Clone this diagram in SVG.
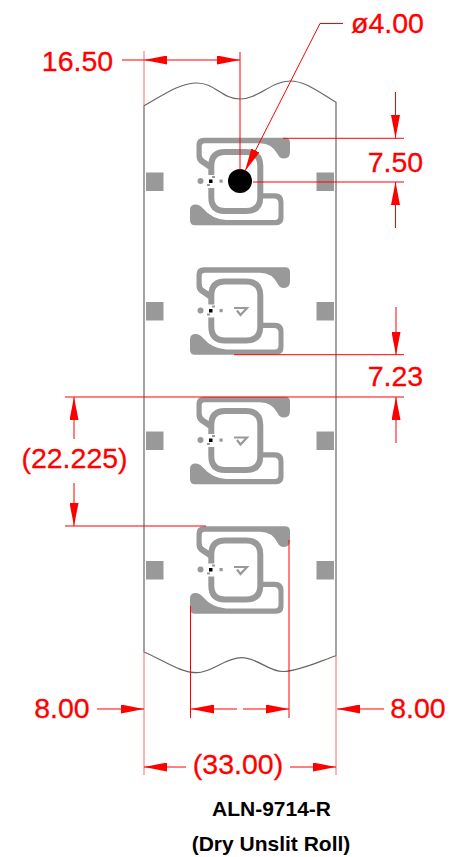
<svg xmlns="http://www.w3.org/2000/svg" width="459" height="857" viewBox="0 0 459 857">
<style>
.dim{fill:none;stroke:#f00;stroke-width:1}
.ext{fill:none;stroke:#f66;stroke-width:1}
.t{font-family:"Liberation Sans",Arial,sans-serif;font-size:28.500px;fill:#f00;stroke:#f00;stroke-width:.3;text-anchor:middle}
.b{font-family:"Liberation Sans",Arial,sans-serif;font-weight:700;font-size:21px;fill:#000;text-anchor:middle}
.g{fill:#999}
.edge{fill:none;stroke:#666;stroke-width:1.2}
</style>
<defs>
<marker id="a" markerUnits="userSpaceOnUse" viewBox="0 0 23 9" refX="23" refY="4.500" markerWidth="23" markerHeight="9" orient="auto-start-reverse"><path d="M0 0L23 4.500L0 9Z" fill="#f00"/></marker>
<g id="inlay">
<path class="g" d="M204 137.700L285 137.700Q290 137.700 290 142.500L290 152Q290 158.500 284 158.500Q279.500 158.500 277.500 154Q272 143.500 260 143.300L205 143.300Q201.700 143.300 201.700 146.500L201.700 154Q201.700 157.500 204 159L211 163.500L211 170L208 169L200 163.500Q196.500 161 196.500 156L196.500 145Q196.500 137.700 204 137.700Z"/>
<path d="M211.300 175L211.300 166Q211.300 152 225 152L246 152Q260.300 152 260.300 166L260.300 197Q260.300 211 246 211L225 211Q211.300 211 211.300 197L211.300 188" fill="none" stroke="#999" stroke-width="6"/>
<path class="g" d="M258 193.300L275 193.300Q283.500 193.300 283.500 202L283.500 218Q283.500 225.300 276 225.300L195 225.300Q190 225.300 190 220L190 210Q190 204.500 195.500 204.500Q199.500 204.500 203 208.500Q212 219 226 220L275 220Q278.500 220 278.500 216L278.500 203Q278.500 198.500 274 198.500L258 198.500Z"/>
<circle class="g" cx="200.500" cy="181" r="3"/>
<rect class="g" x="219.500" y="179.500" width="3.200" height="3.200"/>
<rect x="209" y="179.500" width="3.500" height="3.500" fill="#000"/>
<path class="g" d="M207 184h3v2h-3zM212 176h3v2h-3z"/>
<path d="M234 178.500L247 178.500L240.500 185.500L237 181" fill="none" stroke="#999" stroke-width="2.200"/>
</g>
<rect id="pad" class="g" width="17.500" height="18.500"/>
</defs>

<g id="web"><path class="edge" d="M144 652L144 105.700C165 94 180 83 197 83C215 83 222 99 240 99C258 99 272 81 290 81C306 81 320 93 336 102.300L336 655.700C320 661 300 671 283 671.500C268 671.500 258 657.700 241.500 657.700C225 657.700 212 672.700 197 672.700C180 672.700 165 661 144 652Z"/></g>

<g id="tag-1"><use href="#inlay"/><use href="#pad" x="146" y="172.500"/><use href="#pad" x="316.500" y="172.500"/><circle cx="240" cy="181" r="12" fill="#000"/></g>
<g id="tag-2"><use href="#inlay" y="129.500"/><use href="#pad" x="146" y="302"/><use href="#pad" x="316.500" y="302"/></g>
<g id="tag-3"><use href="#inlay" y="259"/><use href="#pad" x="146" y="431.500"/><use href="#pad" x="316.500" y="431.500"/></g>
<g id="tag-4"><use href="#inlay" y="388.500"/><use href="#pad" x="146" y="561"/><use href="#pad" x="316.500" y="561"/></g>

<g id="connectors">
<path class="ext" d="M144 51V105M144 652V775M336 656V775"/>
<path class="dim" d="M240 52V170M283 138.300H404M253 182H404M234 354.700H404M65 397H404M65 526H206M190.500 606V718M289 540V718"/>
<path class="dim" d="M122 60H144"/>
<path class="dim" d="M192 60H144" marker-end="url(#a)"/>
<path class="dim" d="M192 60H240" marker-end="url(#a)"/>
<path class="dim" d="M343 23.500H320L245 171" marker-end="url(#a)"/>
<path class="dim" d="M395.500 92V138" marker-end="url(#a)"/>
<path class="dim" d="M395.500 228V182" marker-end="url(#a)"/>
<path class="dim" d="M396 307V355" marker-end="url(#a)"/>
<path class="dim" d="M396 443V397" marker-end="url(#a)"/>
<path class="dim" d="M74 439V397" marker-end="url(#a)"/>
<path class="dim" d="M74 483V526" marker-end="url(#a)"/>
<path class="dim" d="M237 709H191" marker-end="url(#a)"/>
<path class="dim" d="M243 709H289" marker-end="url(#a)"/>
<path class="dim" d="M97 709H144" marker-end="url(#a)"/>
<path class="dim" d="M384 709H337" marker-end="url(#a)"/>
<path class="dim" d="M186 767H144" marker-end="url(#a)"/>
<path class="dim" d="M290 767H336" marker-end="url(#a)"/>
</g>

<g id="labels">
<text class="t" x="77.500" y="71">16.50</text>
<text class="t" x="387.500" y="33">ø4.00</text>
<text class="t" x="395.500" y="172">7.50</text>
<text class="t" x="395.500" y="386">7.23</text>
<text class="t" x="74.500" y="468">(22.225)</text>
<text class="t" x="62" y="718">8.00</text>
<text class="t" x="418" y="718">8.00</text>
<text class="t" x="238" y="774">(33.00)</text>
<text class="b" x="271.500" y="816">ALN-9714-R</text>
<text class="b" x="271" y="851">(Dry Unslit Roll)</text>
</g>
</svg>
